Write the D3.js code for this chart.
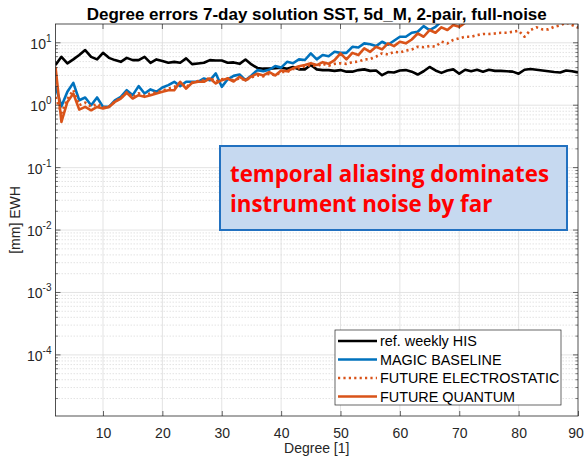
<!DOCTYPE html>
<html>
<head>
<meta charset="utf-8">
<script src="https://cdn.jsdelivr.net/npm/d3@7"></script>
<style>
  body { margin: 0; background: #fff; }
  svg text { font-family: "Liberation Sans", Arial, sans-serif; fill: #262626; }
</style>
</head>
<body>
<svg id="chart" width="584" height="462"></svg>
<script>
// degrees 2..90
const degrees = d3.range(2, 91);

// ref. weekly HIS
const hisValues = [4.4, 5.96, 4.67, 5.42, 6.36, 7.64, 5.96, 5.42, 6.9, 5.74,
  5.28, 4.95, 5.74, 5.28, 5.28, 5.96, 4.78, 5.42, 5.1, 4.78,
  4.95, 4.78, 5.62, 4.55, 4.67, 4.78, 5.28, 5.2, 5.2, 4.78,
  4.85, 4.6, 5.4, 4.5, 3.95, 3.85, 3.85, 3.9, 4.0, 3.85,
  4.1, 3.75, 3.75, 4.4, 3.75, 3.65, 3.65, 3.55, 3.65, 3.45,
  3.45, 3.65, 3.75, 3.55, 3.6, 3.03, 3.4, 3.35, 3.6, 3.65,
  3.45, 3.1, 3.5, 4.1, 3.6, 3.3, 3.6, 3.75, 3.2, 3.7,
  3.5, 3.7, 3.45, 3.7, 3.55, 3.55, 3.5, 3.45, 3.2, 3.7,
  3.8, 3.7, 3.6, 3.5, 3.4, 3.35, 3.6, 3.5, 3.35];

// MAGIC BASELINE (leaves the plot at the top after degree 67)
const magicValues = [2.02, 0.96, 1.64, 2.28, 1.2, 1.33, 1.0, 1.33, 0.94, 0.94,
  1.2, 1.36, 1.74, 1.45, 2.02, 1.54, 1.79, 1.64, 1.92, 2.1,
  2.37, 2.02, 2.37, 2.37, 2.37, 2.68, 2.5, 3.23, 1.97, 2.6,
  2.95, 3.1, 2.52, 3.0, 3.65, 3.5, 3.7, 4.23, 4.0, 4.95,
  4.7, 5.42, 5.3, 6.76, 5.42, 6.36, 6.1, 7.17, 6.9, 6.9,
  8.63, 8.4, 9.78, 9.5, 8.85, 10.4, 9.3, 10.8, 12.5, 12.5,
  14.5, 15, 18.5, 16, 18, 22];

// FUTURE ELECTROSTATIC
const electroValues = [1.35, 0.75, 1.25, 1.75, 1.0, 1.1, 0.95, 1.05, 0.92, 0.95,
  1.15, 1.3, 1.62, 1.35, 1.55, 1.42, 1.55, 1.6, 1.7, 1.85,
  1.95, 2.3, 1.95, 2.3, 2.45, 2.5, 2.75, 2.4, 2.6, 2.7,
  2.5, 2.7, 2.5, 2.8, 3.0, 2.9, 3.2, 3.0, 3.4, 3.4,
  3.8, 3.9, 4.2, 4.4, 4.2, 4.6, 4.3, 4.6, 4.7, 4.6,
  4.9, 5.0, 5.4, 5.5, 6.0, 6.76, 6.5, 7.17, 7.0, 7.5,
  7.8, 8.63, 8.5, 8.85, 8.7, 10.4, 9.78, 11.1, 11.8, 12.5,
  12.5, 13.3, 13.8, 13.8, 14.1, 14.5, 14.5, 15, 15.6, 12.5,
  16, 17.7, 16.4, 16.4, 18.1, 19, 21, 19.3, 17.5];

// FUTURE QUANTUM (leaves the plot at the top after degree 71)
const quantumValues = [4.12, 0.54, 1.13, 1.54, 0.85, 0.94, 0.83, 0.94, 0.89, 0.94,
  1.13, 1.28, 1.58, 1.28, 1.45, 1.36, 1.45, 1.54, 1.64, 1.74,
  1.74, 2.37, 1.85, 2.28, 2.37, 2.37, 2.68, 2.23, 2.52, 2.68,
  2.4, 2.85, 2.5, 2.9, 3.2, 3.0, 3.4, 3.0, 3.6, 3.5,
  3.9, 4.2, 4.4, 4.7, 4.4, 4.9, 4.6, 5.28, 6.76, 5.42,
  6.9, 6.36, 8.13, 7.17, 8.63, 7.83, 9.78, 8.85, 10.4, 9.8,
  11.3, 14.1, 12.5, 16, 14.5, 17.7, 16, 19.3, 18, 21, 24];

const seriesNames = ["ref. weekly HIS", "MAGIC BASELINE", "FUTURE ELECTROSTATIC", "FUTURE QUANTUM"];
const yTickValues = [1e-4, 1e-3, 1e-2, 1e-1, 1e0, 1e1];
const yTickExponents = ["-4", "-3", "-2", "-1", "0", "1"];
const xTickValues = [10, 20, 30, 40, 50, 60, 70, 80, 90];

const titleText = "Degree errors 7-day solution SST, 5d_M, 2-pair, full-noise";
const noteLines = ["temporal aliasing dominates", "instrument noise by far"];

const margin = {left: 55.5, right: 6, top: 24, bottom: 46};
const W = 584, H = 462;

const svg = d3.select("#chart");

const x = d3.scaleLinear().domain([2, 90]).range([margin.left, W - margin.right]);
const y = d3.scaleLog().domain([1.05e-5, 20]).range([H - margin.bottom, margin.top]);

const plotW = W - margin.right - margin.left;
const plotH = H - margin.bottom - margin.top;

svg.append("defs").append("clipPath").attr("id", "clip")
  .append("rect")
  .attr("x", margin.left).attr("y", margin.top)
  .attr("width", plotW).attr("height", plotH);

// grid
let grid = svg.append("g");
// minor horizontal grid
let minors = [];
for (let e = -5; e <= 1; e++) {
  for (let m = 2; m <= 9; m++) {
    let v = m * Math.pow(10, e);
    if (v > y.domain()[0] && v < y.domain()[1]) minors.push(v);
  }
}
grid.selectAll(".minor").data(minors).enter().append("line")
  .attr("x1", margin.left).attr("x2", W - margin.right)
  .attr("y1", d => y(d)).attr("y2", d => y(d))
  .style("stroke", "#d0d0d0").style("stroke-width", 0.6)
  .style("stroke-dasharray", "1.5,1.5");
grid.selectAll(".hmajor").data(yTickValues).enter().append("line")
  .attr("x1", margin.left).attr("x2", W - margin.right)
  .attr("y1", d => y(d)).attr("y2", d => y(d))
  .style("stroke", "#dcdcdc").style("stroke-width", 0.8);
grid.selectAll(".vmajor").data(xTickValues.filter(d => d < 90)).enter().append("line")
  .attr("y1", margin.top).attr("y2", H - margin.bottom)
  .attr("x1", d => x(d)).attr("x2", d => x(d))
  .style("stroke", "#dcdcdc").style("stroke-width", 0.8);

// lines
let lineGen = d3.line()
  .x((d, i) => x(degrees[i]))
  .y(d => y(d));

let plot = svg.append("g").attr("clip-path", "url(#clip)");

const styles = [
  {data: hisValues, color: "#000000", dash: null},
  {data: magicValues, color: "#0072BD", dash: null},
  {data: electroValues, color: "#D95319", dash: "2.2,3.2"},
  {data: quantumValues, color: "#D95319", dash: null}
];

styles.forEach(s => {
  plot.append("path")
    .datum(s.data)
    .attr("d", lineGen)
    .style("fill", "none")
    .style("stroke", s.color)
    .style("stroke-width", 2.6)
    .style("stroke-linejoin", "round")
    .style("stroke-dasharray", s.dash);
});

// axes box
let axisG = svg.append("g");
axisG.append("rect")
  .attr("x", margin.left).attr("y", margin.top)
  .attr("width", plotW).attr("height", plotH)
  .style("fill", "none").style("stroke", "#262626").style("stroke-width", 0.8);

// x ticks
let xAxisBottom = d3.axisBottom(x).tickValues(xTickValues).tickSize(-5).tickFormat(d3.format("d")).tickPadding(12);
let gx = axisG.append("g").attr("transform", `translate(0,${H - margin.bottom})`).call(xAxisBottom);
gx.select(".domain").remove();
gx.selectAll("line").style("stroke", "#262626").style("stroke-width", 0.7);
gx.selectAll("text").style("font-size", "14px").style("fill", "#262626")
  .style("font-family", "'Liberation Sans', Arial, sans-serif")
  .attr("dx", d => d === 90 ? -2.5 : 0);
axisG.selectAll(".xtop").data(xTickValues).enter().append("line")
  .attr("x1", d => x(d)).attr("x2", d => x(d))
  .attr("y1", margin.top).attr("y2", margin.top + 5)
  .style("stroke", "#262626").style("stroke-width", 0.7);

// y ticks: major and minor on both sides
[margin.left, W - margin.right].forEach((x0, side) => {
  let dir = side === 0 ? 1 : -1;
  axisG.selectAll(null).data(yTickValues).enter().append("line")
    .attr("x1", x0).attr("x2", x0 + dir * 5)
    .attr("y1", d => y(d)).attr("y2", d => y(d))
    .style("stroke", "#262626").style("stroke-width", 0.7);
  axisG.selectAll(null).data(minors).enter().append("line")
    .attr("x1", x0).attr("x2", x0 + dir * 2.5)
    .attr("y1", d => y(d)).attr("y2", d => y(d))
    .style("stroke", "#262626").style("stroke-width", 0.6);
});

let yLabels = axisG.selectAll(".ylab").data(yTickValues).enter().append("text")
  .attr("x", margin.left - 4)
  .attr("y", d => y(d) + 6)
  .attr("text-anchor", "end")
  .style("font-size", "14px");
yLabels.append("tspan").text("10");
yLabels.append("tspan").attr("dy", -7).style("font-size", "10px").text((d, i) => yTickExponents[i]);

// axis labels
svg.append("text")
  .attr("x", (margin.left + W - margin.right) / 2)
  .attr("y", 453)
  .attr("text-anchor", "middle")
  .style("font-size", "14px")
  .text("Degree [1]");

svg.append("text")
  .attr("transform", `translate(20,${(margin.top + H - margin.bottom) / 2}) rotate(-90)`)
  .attr("text-anchor", "middle")
  .style("font-size", "14px")
  .text("[mm] EWH");

// title
svg.append("text")
  .attr("x", (margin.left + W - margin.right) / 2)
  .attr("y", 19.5)
  .attr("text-anchor", "middle")
  .style("font-size", "17px")
  .style("font-weight", "bold")
  .style("fill", "#000")
  .text(titleText);

// annotation box
let note = svg.append("g");
note.append("rect")
  .attr("x", 220).attr("y", 146)
  .attr("width", 347).attr("height", 84)
  .style("fill", "#c6d9f0").style("stroke", "#2271c0").style("stroke-width", 2);
note.selectAll("text").data(noteLines).enter().append("text")
  .attr("x", 230)
  .attr("y", (d, i) => 182 + i * 30)
  .style("font-family", "'Open Sans', Lato, sans-serif")
  .style("font-weight", "bold")
  .style("font-size", "22.3px")
  .style("fill", "#ff0000")
  .text(d => d);

// legend
let legend = svg.append("g");
legend.append("rect")
  .attr("x", 335).attr("y", 330)
  .attr("width", 226).attr("height", 75)
  .style("fill", "#fff").style("stroke", "#262626").style("stroke-width", 0.7);
styles.forEach((s, i) => {
  let ly = 341 + i * 18.5;
  legend.append("line")
    .attr("x1", 338).attr("x2", 377)
    .attr("y1", ly).attr("y2", ly)
    .style("stroke", s.color).style("stroke-width", 2.6)
    .style("stroke-dasharray", s.dash);
  legend.append("text")
    .attr("x", 380).attr("y", ly + 5)
    .style("font-size", "14.4px")
    .style("fill", "#000")
    .text(seriesNames[i]);
});
</script>
</body>
</html>
